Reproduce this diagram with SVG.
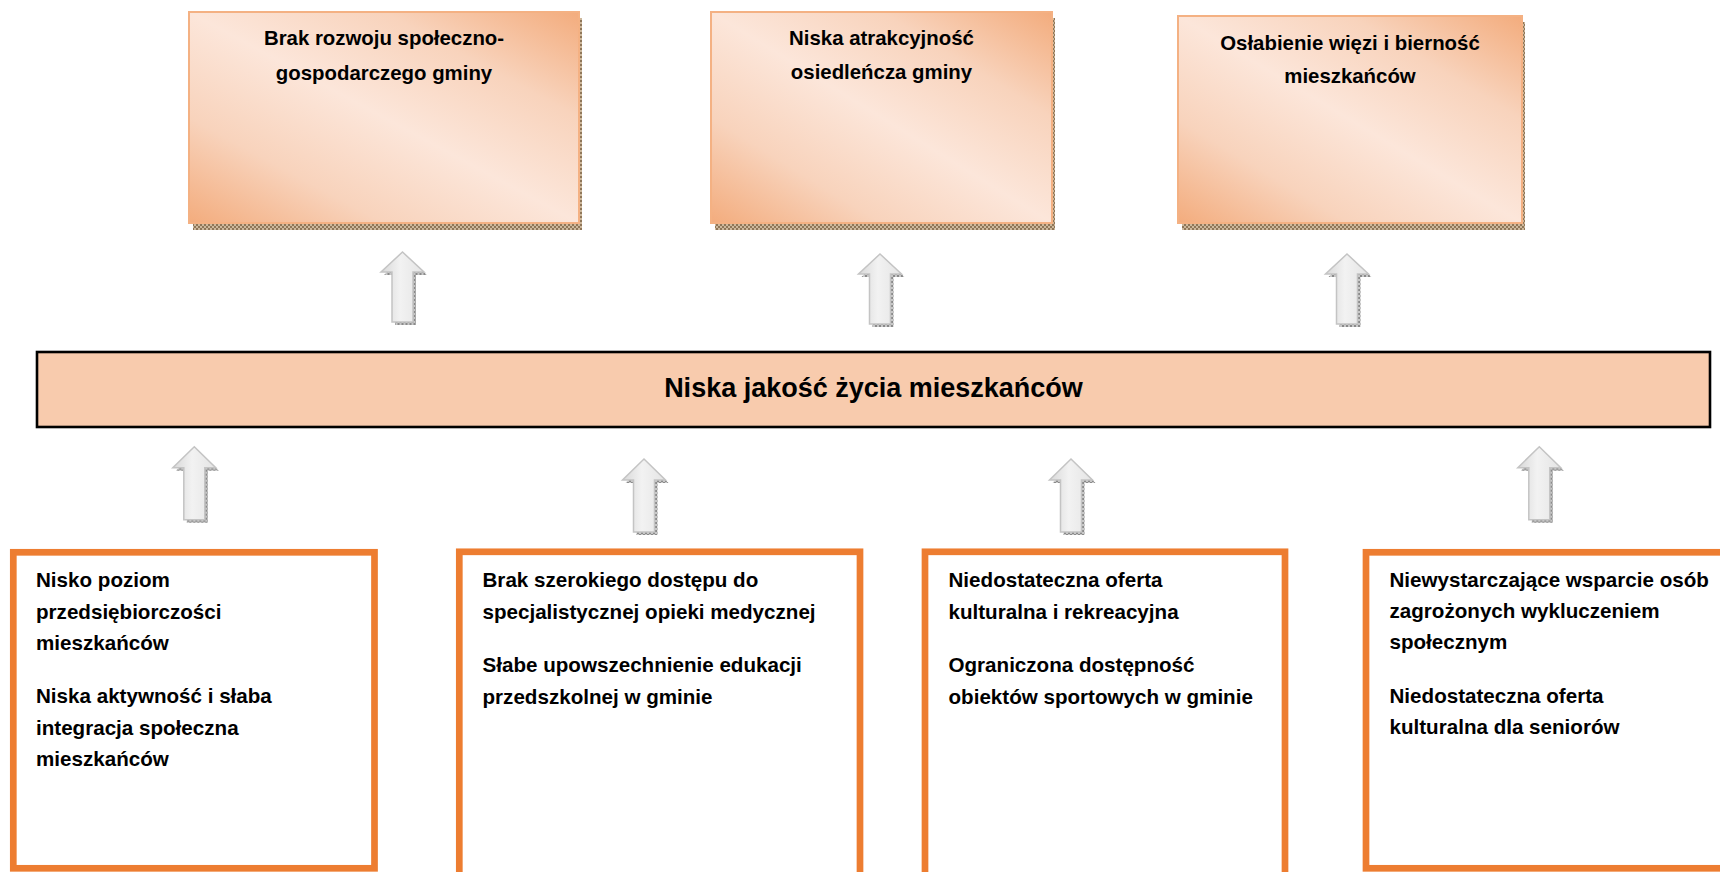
<svg xmlns="http://www.w3.org/2000/svg" width="1720" height="872" viewBox="0 0 1720 872">
<defs>
  <linearGradient id="gTop" x1="1" y1="0" x2="0" y2="1">
    <stop offset="0" stop-color="#F3AC7D"/>
    <stop offset="0.25" stop-color="#F8D3BC"/>
    <stop offset="0.5" stop-color="#FCE6DA"/>
    <stop offset="0.75" stop-color="#F8D3BC"/>
    <stop offset="1" stop-color="#F3AC7D"/>
  </linearGradient>
  <linearGradient id="gArrow" x1="0" y1="0" x2="1" y2="0">
    <stop offset="0" stop-color="#D8D8D8"/>
    <stop offset="0.45" stop-color="#F2F2F2"/>
    <stop offset="1" stop-color="#E4E4E4"/>
  </linearGradient>
  <pattern id="hatchBrown" width="4" height="4" patternUnits="userSpaceOnUse">
    <rect width="4" height="4" fill="#CDB89C"/>
    <rect width="2" height="2" fill="#8F7658"/>
    <rect x="2" y="2" width="2" height="2" fill="#8F7658"/>
  </pattern>
  <pattern id="hatchGray" width="4" height="4" patternUnits="userSpaceOnUse">
    <rect width="4" height="4" fill="#C8C8C8"/>
    <rect width="2" height="2" fill="#8A8A8A"/>
    <rect x="2" y="2" width="2" height="2" fill="#8A8A8A"/>
  </pattern>
  <path id="arrowTop" d="M0,0 L21.5,20 L10.5,20 L10.5,70 L-10.5,70 L-10.5,20 L-21.5,20 Z"/>
  <path id="arrowBot" d="M0,0 L21.5,21 L10.5,21 L10.5,73 L-10.5,73 L-10.5,21 L-21.5,21 Z"/>
</defs>
<style>
  .t { font-family: "Liberation Sans", Arial, sans-serif; font-weight: bold; fill: #000; }
  .top { font-size: 20.4px; text-anchor: middle; }
  .body { font-size: 20.6px; }
  .main { font-size: 27px; text-anchor: middle; }
  .topbox { fill: url(#gTop); stroke: #F4B183; stroke-width: 2; }
  .shadowB { fill: url(#hatchBrown); }
  .shadowG { fill: url(#hatchGray); }
  .arrow { fill: url(#gArrow); stroke: #C4C4C4; stroke-width: 1.5; }
  .cause { fill: #FFFFFF; stroke: #ED7D31; stroke-width: 6.7; }
  .band { fill: #F8CBAD; stroke: #000; stroke-width: 2.6; }
</style>
<rect width="1720" height="872" fill="#FFFFFF"/>

<g id="effect1">
  <rect class="shadowB" x="193" y="18" width="389" height="212"/>
  <rect class="topbox" x="189" y="12" width="390" height="211"/>
  <text class="t top" x="384" y="45">Brak rozwoju społeczno-</text>
  <text class="t top" x="384" y="80">gospodarczego gminy</text>
</g>
<g id="effect2">
  <rect class="shadowB" x="715" y="18" width="340" height="212"/>
  <rect class="topbox" x="711" y="12" width="341" height="211"/>
  <text class="t top" x="881.5" y="45">Niska atrakcyjność</text>
  <text class="t top" x="881.5" y="79">osiedleńcza gminy</text>
</g>
<g id="effect3">
  <rect class="shadowB" x="1182" y="22" width="343" height="208"/>
  <rect class="topbox" x="1178" y="16" width="344" height="207"/>
  <text class="t top" x="1350" y="50">Osłabienie więzi i bierność</text>
  <text class="t top" x="1350" y="83">mieszkańców</text>
</g>

<g id="core">
  <rect class="band" x="37" y="352" width="1673" height="75"/>
  <text class="t main" x="873.5" y="397">Niska jakość życia mieszkańców</text>
</g>

<g id="cause1">
  <rect class="cause" x="13.3" y="552.3" width="361.2" height="316"/>
  <text class="t body" x="36" y="587">Nisko poziom</text>
  <text class="t body" x="36" y="619">przedsiębiorczości</text>
  <text class="t body" x="36" y="650">mieszkańców</text>
  <text class="t body" x="36" y="703">Niska aktywność i słaba</text>
  <text class="t body" x="36" y="735">integracja społeczna</text>
  <text class="t body" x="36" y="766">mieszkańców</text>
</g>
<g id="cause2">
  <rect class="cause" x="459.3" y="551.8" width="400.7" height="340"/>
  <text class="t body" x="482.5" y="587">Brak szerokiego dostępu do</text>
  <text class="t body" x="482.5" y="618.5">specjalistycznej opieki medycznej</text>
  <text class="t body" x="482.5" y="672">Słabe upowszechnienie edukacji</text>
  <text class="t body" x="482.5" y="703.5">przedszkolnej w gminie</text>
</g>
<g id="cause3">
  <rect class="cause" x="925" y="551.8" width="360" height="340"/>
  <text class="t body" x="948.5" y="587">Niedostateczna oferta</text>
  <text class="t body" x="948.5" y="618.5">kulturalna i rekreacyjna</text>
  <text class="t body" x="948.5" y="672">Ograniczona dostępność</text>
  <text class="t body" x="948.5" y="703.5">obiektów sportowych w gminie</text>
</g>
<g id="cause4">
  <rect class="cause" x="1366" y="552.3" width="420" height="316"/>
  <text class="t body" x="1389.5" y="587">Niewystarczające wsparcie osób</text>
  <text class="t body" x="1389.5" y="618">zagrożonych wykluczeniem</text>
  <text class="t body" x="1389.5" y="649">społecznym</text>
  <text class="t body" x="1389.5" y="703">Niedostateczna oferta</text>
  <text class="t body" x="1389.5" y="734">kulturalna dla seniorów</text>
</g>

<g id="connectors">
  <use href="#arrowTop" class="shadowG" x="405.5" y="255"/>
  <use href="#arrowTop" class="arrow" x="402.5" y="252"/>
  <use href="#arrowTop" class="shadowG" x="883" y="257"/>
  <use href="#arrowTop" class="arrow" x="880" y="254"/>
  <use href="#arrowTop" class="shadowG" x="1350" y="257"/>
  <use href="#arrowTop" class="arrow" x="1347" y="254"/>

  <use href="#arrowBot" class="shadowG" x="197.3" y="449.7"/>
  <use href="#arrowBot" class="arrow" x="194.3" y="446.7"/>
  <use href="#arrowBot" class="shadowG" x="647" y="462"/>
  <use href="#arrowBot" class="arrow" x="644" y="459"/>
  <use href="#arrowBot" class="shadowG" x="1074" y="462"/>
  <use href="#arrowBot" class="arrow" x="1071" y="459"/>
  <use href="#arrowBot" class="shadowG" x="1542.3" y="449.7"/>
  <use href="#arrowBot" class="arrow" x="1539.3" y="446.7"/>
</g>
</svg>
